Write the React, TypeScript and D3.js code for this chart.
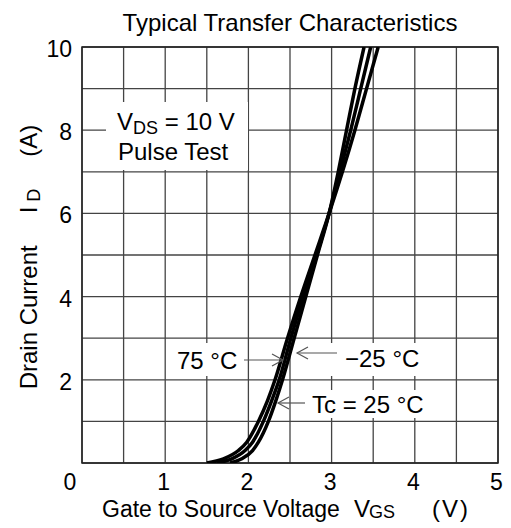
import React from "react";
import * as d3 from "d3";

const VGS_TICKS = [0, 1, 2, 3, 4, 5];
const ID_TICKS = [2, 4, 6, 8, 10];
const ID_POINTS = [0, 0.1, 0.3, 0.5, 1, 1.5, 2, 3, 4, 5, 6, 7, 8, 9, 10];
const VGS_M25 = [1.78, 1.92, 2.05, 2.12, 2.24, 2.33, 2.41, 2.55, 2.69, 2.83, 2.97, 3.08, 3.18, 3.28, 3.39];
const VGS_25 = [1.62, 1.8, 1.96, 2.05, 2.18, 2.28, 2.37, 2.51, 2.66, 2.82, 2.97, 3.1, 3.23, 3.35, 3.47];
const VGS_75 = [1.5, 1.7, 1.88, 1.98, 2.12, 2.23, 2.32, 2.47, 2.63, 2.8, 2.97, 3.13, 3.28, 3.42, 3.56];
const SERIES = [VGS_M25, VGS_25, VGS_75];

const FONT = "'Liberation Sans', Arial, Helvetica, sans-serif";
const FS = 24;
const TICK_FS = 23;
const SUB_FS = 18;

export default function App() {
  const x = d3.scaleLinear().domain([0, 5]).range([82, 498]);
  const y = d3.scaleLinear().domain([0, 10]).range([463, 47]);
  const line = d3
    .line<number>()
    .x((d) => x(d))
    .y((_, i) => y(ID_POINTS[i]))
    .curve(d3.curveMonotoneX);
  const vGrid = d3.range(0, 5.001, 0.5);
  const hGrid = d3.range(0, 10.001, 1);
  const grid = "#444";
  const arrow = "#555";

  const arrowHead = (tx: number, ty: number, dir: number) =>
    `M${tx - dir * 11},${ty - 6} L${tx},${ty} L${tx - dir * 11},${ty + 6}`;

  return (
    <svg
      width={511}
      height={528}
      style={{ position: "absolute", left: 0, top: 0, background: "#fff" }}
      fontFamily={FONT}
    >
      <rect width={511} height={528} fill="#fff" />
      <defs>
        <clipPath id="plot">
          <rect x={82} y={47} width={416} height={416} />
        </clipPath>
      </defs>
      {vGrid.map((v) => (
        <line key={"v" + v} x1={x(v)} x2={x(v)} y1={y(0)} y2={y(10)} stroke={grid} strokeWidth={1.3} />
      ))}
      {hGrid.map((v) => (
        <line key={"h" + v} x1={x(0)} x2={x(5)} y1={y(v)} y2={y(v)} stroke={grid} strokeWidth={1.3} />
      ))}
      <rect x={82} y={47} width={416} height={416} fill="none" stroke="#222" strokeWidth={1.5} />

      {/* label boxes */}
      <rect x={106} y={102} width={142} height={68} fill="#fff" />
      <rect x={170} y={343} width={75} height={33} fill="#fff" />
      <rect x={328} y={343} width={104} height={33} fill="#fff" />
      <rect x={308} y={390} width={126} height={28} fill="#fff" />

      <g clipPath="url(#plot)">
        {SERIES.map((s, i) => (
          <path key={i} d={line(s) || ""} fill="none" stroke="#000" strokeWidth={3.5} />
        ))}
      </g>

      {/* title */}
      <text x={290} y={31} textAnchor="middle" fontSize={FS}>
        Typical Transfer Characteristics
      </text>

      {/* y ticks */}
      {ID_TICKS.map((t) => (
        <text key={"yt" + t} x={72} y={y(t) + 10} textAnchor="end" fontSize={TICK_FS}>
          {t}
        </text>
      ))}
      {/* x ticks */}
      {VGS_TICKS.map((t) => (
        <text key={"xt" + t} x={x(t) - (t === 0 ? 12 : 1.5)} y={490} textAnchor="middle" fontSize={TICK_FS}>
          {t}
        </text>
      ))}

      {/* x label */}
      <text x={102} y={517} fontSize={23}>Gate to Source Voltage</text>
      <text x={354} y={517} fontSize={FS}>V</text>
      <text x={369} y={518} fontSize={SUB_FS}>GS</text>
      <text x={432} y={517} fontSize={FS} letterSpacing={2}>(V)</text>

      {/* y label */}
      <g transform="translate(37,257) rotate(-90)">
        <text x={0} y={0} textAnchor="middle" fontSize={FS}>
          <tspan>Drain Current</tspan>
          <tspan dx={32}>I</tspan>
          <tspan dx={5} dy={3} fontSize={SUB_FS}>D</tspan>
          <tspan dx={32} dy={-3}>(A)</tspan>
        </text>
      </g>

      {/* VDS box */}
      <text x={117} y={130} fontSize={FS}>
        <tspan>V</tspan>
        <tspan dy={4} fontSize={SUB_FS}>DS</tspan>
        <tspan dy={-4}> = 10 V</tspan>
      </text>
      <text x={118} y={160} fontSize={FS}>Pulse Test</text>

      {/* annotations */}
      <text x={177} y={369} fontSize={FS}>75 °C</text>
      <line x1={244} x2={283} y1={360} y2={360} stroke={arrow} strokeWidth={1.2} />
      <path d={arrowHead(283, 360, 1)} fill="none" stroke={arrow} strokeWidth={1.2} />

      <text x={345} y={367} fontSize={FS}>−25 °C</text>
      <line x1={297} x2={337} y1={353} y2={353} stroke={arrow} strokeWidth={1.2} />
      <path d={arrowHead(297, 353, -1)} fill="none" stroke={arrow} strokeWidth={1.2} />

      <text x={312} y={413} fontSize={FS}>Tc = 25 °C</text>
      <line x1={278} x2={305} y1={403} y2={403} stroke={arrow} strokeWidth={1.2} />
      <path d={arrowHead(278, 403, -1)} fill="none" stroke={arrow} strokeWidth={1.2} />
    </svg>
  );
}
